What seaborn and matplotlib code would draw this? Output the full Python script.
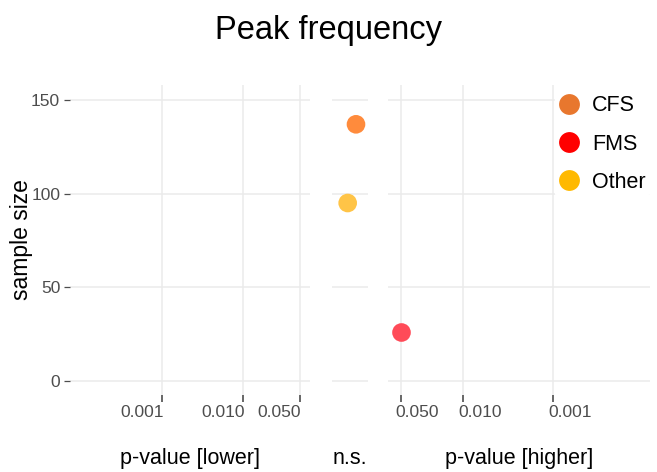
import numpy as np
import pandas as pd
import matplotlib
matplotlib.use("Agg")
import matplotlib.pyplot as plt
import matplotlib.transforms as mtransforms
import seaborn as sns
from matplotlib.lines import Line2D

# ---- data ----
groups = ["CFS", "FMS", "Other"]
sample_size = [137, 26, 95]
p_value = [np.nan, 0.05, np.nan]
direction = ["ns", "higher", "ns"]
ns_position = [0.67, np.nan, 0.44]
legend_palette = {"CFS": "#E8772E", "FMS": "#FF0000", "Other": "#FFB900"}
point_palette = {"CFS": "#FF8B3C", "FMS": "#FF4B58", "Other": "#FFC447"}

lower_ticks = [0.001, 0.010, 0.050]
higher_ticks = [0.050, 0.010, 0.001]
y_ticks = [0, 50, 100, 150]

df = pd.DataFrame({"group": groups, "n": sample_size, "p": p_value,
                   "direction": direction, "ns_x": ns_position})

sns.set_theme(style="white")
plt.rcParams['font.family'] = ['Liberation Sans', 'DejaVu Sans']
plt.rcParams['xtick.bottom'] = True
plt.rcParams['ytick.left'] = True

fig = plt.figure(figsize=(6.57, 4.72), dpi=100)
bottom, height = 0.163, 0.657
ax_l = fig.add_axes([0.1065, bottom, 0.3655, height])
ax_m = fig.add_axes([0.505, bottom, 0.055, height])
ax_r = fig.add_axes([0.590, bottom, 0.399, height])

grid_c = "#EBEBEB"
tick_c = "#4D4D4D"
ylim = (-7.5, 158)
label_fs = 15.5
label_y = -0.205
pt_size = 180


def style(ax):
    for s in ax.spines.values():
        s.set_visible(False)
    ax.set_ylim(*ylim)
    ax.set_yticks(y_ticks)
    ax.grid(True, axis="y", color=grid_c, linewidth=1.1, zorder=0)
    ax.set_axisbelow(True)
    ax.tick_params(colors=tick_c, labelcolor=tick_c, labelsize=12.5,
                   length=4, width=0.9, pad=3, direction="out",
                   bottom=True, left=True)
    ax.set_ylabel("")


def xticks_on(ax):
    ax.tick_params(axis="x", which="major", bottom=True, length=5,
                   width=1.2, color=tick_c, direction="out", pad=2.5)


def draw_points(ax, sub, xcol):
    if len(sub):
        sns.scatterplot(data=sub, x=xcol, y="n", hue="group",
                        palette=point_palette, s=pt_size, linewidth=0,
                        ax=ax, legend=False, zorder=3)


# left panel: p-value lower
draw_points(ax_l, df[df.direction == "lower"], "p")
ax_l.set_xscale("log")
ax_l.set_xlim(10 ** -4.136, 10 ** -1.173)
style(ax_l)
ax_l.set_xticks(lower_ticks)
ax_l.set_xticklabels([f"{t:.3f}" for t in lower_ticks], ha="right")
ax_l.minorticks_off()
ax_l.grid(True, axis="x", color=grid_c, linewidth=1.1)
xticks_on(ax_l)
ax_l.set_xlabel("p-value [lower]", fontsize=label_fs, color="black", va="center")
ax_l.xaxis.set_label_coords(0.5, label_y)
ax_l.set_ylabel("sample size", fontsize=16.5, color="black", va="center")
ax_l.yaxis.set_label_coords(-0.20, 0.5)
ax_l.set_yticklabels([str(t) for t in y_ticks])
off_l = mtransforms.ScaledTranslation(1.5 / 100, 0, fig.dpi_scale_trans)
for lab in ax_l.get_xticklabels():
    lab.set_transform(lab.get_transform() + off_l)

# middle panel: n.s.
draw_points(ax_m, df[df.direction == "ns"], "ns_x")
ax_m.set_xlim(0, 1)
style(ax_m)
ax_m.set_xticks([])
ax_m.set_yticklabels([])
ax_m.tick_params(axis="y", length=0)
ax_m.set_xlabel("n.s.", fontsize=label_fs, color="black", va="center")
ax_m.xaxis.set_label_coords(0.5, label_y)

# right panel: p-value higher
draw_points(ax_r, df[df.direction == "higher"], "p")
ax_r.set_xscale("log")
ax_r.set_xlim(10 ** -1.157, 10 ** -4.07)
style(ax_r)
ax_r.set_xticks(higher_ticks)
ax_r.set_xticklabels([f"{t:.3f}" for t in higher_ticks], ha="left")
ax_r.minorticks_off()
ax_r.grid(True, axis="x", color=grid_c, linewidth=1.1)
xticks_on(ax_r)
ax_r.set_yticklabels([])
ax_r.tick_params(axis="y", length=0)
ax_r.set_xlabel("p-value [higher]", fontsize=label_fs, color="black", va="center")
ax_r.xaxis.set_label_coords(0.5, label_y)
off_r = mtransforms.ScaledTranslation(-5 / 100, 0, fig.dpi_scale_trans)
for lab in ax_r.get_xticklabels():
    lab.set_transform(lab.get_transform() + off_r)

handles = [Line2D([0], [0], marker="o", linestyle="", markersize=15,
                  markerfacecolor=legend_palette[g], markeredgewidth=0, label=g)
           for g in groups]
leg = ax_r.legend(handles=handles, loc="upper left", frameon=True,
                  fontsize=15.5, handlelength=1.0, handletextpad=0.6,
                  labelspacing=0.8, borderpad=0.15, borderaxespad=0,
                  bbox_to_anchor=(0.637, 0.977))
leg.get_frame().set_facecolor("white")
leg.get_frame().set_edgecolor("white")
leg.get_frame().set_alpha(1)
for t in leg.get_texts():
    t.set_color("black")

fig.suptitle("Peak frequency", fontsize=23.5, y=0.968, color="black")

fig.savefig("out.png", dpi=100)
